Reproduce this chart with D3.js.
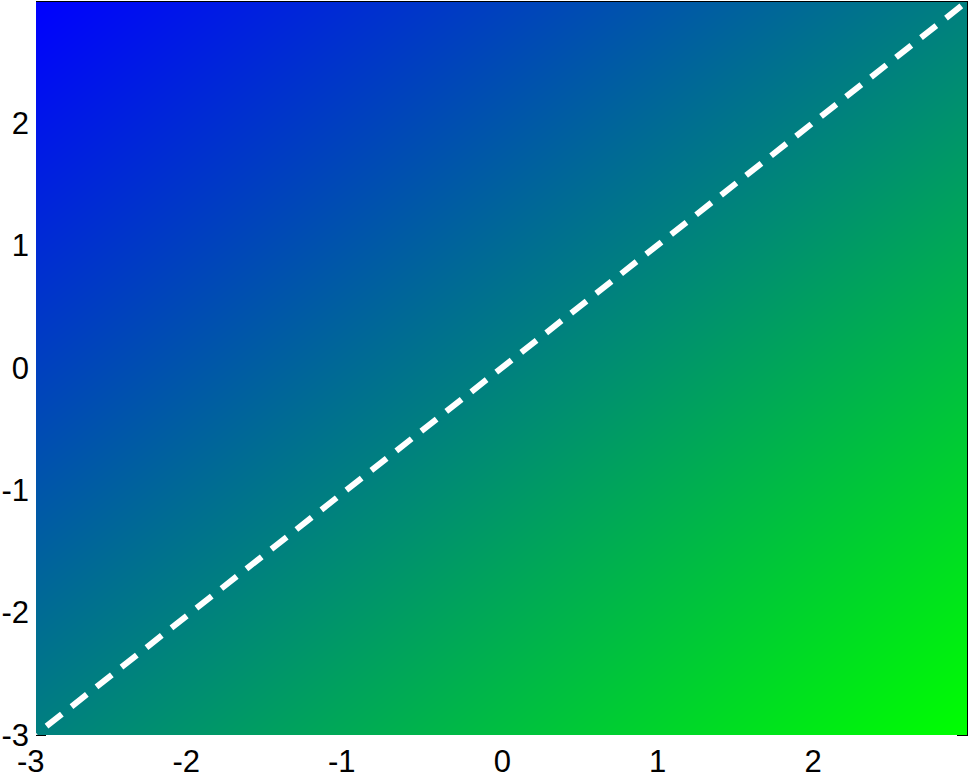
<!DOCTYPE html>
<html>
<head>
<meta charset="utf-8">
<script src="https://cdn.jsdelivr.net/npm/d3@7"></script>
<style>
  body { margin: 0; background: #fff; }
  svg { display: block; font-family: "Liberation Sans", Arial, sans-serif; }
</style>
</head>
<body>
<div id="graph"></div>
<script>
// grid the surface is sampled on
var gridX = [-3, -2, -1, 0, 1, 2, 3];
var gridY = [-3, -2, -1, 0, 1, 2, 3];
// surface values, rows follow gridY, columns follow gridX
var gridZ = [
  [ 0,  1,  2,  3,  4,  5,  6],
  [-1,  0,  1,  2,  3,  4,  5],
  [-2, -1,  0,  1,  2,  3,  4],
  [-3, -2, -1,  0,  1,  2,  3],
  [-4, -3, -2, -1,  0,  1,  2],
  [-5, -4, -3, -2, -1,  0,  1],
  [-6, -5, -4, -3, -2, -1,  0]
];
var colorStops = ["#0000ff", "#00ff00"];
var zRange = [-6, 6];

// dashed diagonal
var lineX = [-3, 3];
var lineY = [-3, 3];

var xTicks = [-3, -2, -1, 0, 1, 2];
var yTicks = [-3, -2, -1, 0, 1, 2];
var xLimits = [-3, 2.99];
var yLimits = [-3, 2.99];

var svgWidth = 969, svgHeight = 774;
var margin = {top: 1.5, right: 2, bottom: 39.5, left: 36};
var width = svgWidth - margin.left - margin.right;
var height = svgHeight - margin.top - margin.bottom;

var svg = d3.select('#graph').append('svg')
  .attr('width', svgWidth)
  .attr('height', svgHeight);

var x = d3.scaleLinear().domain(xLimits).range([margin.left, margin.left + width]);
var y = d3.scaleLinear().domain(yLimits).range([margin.top + height, margin.top]);
var color = d3.scaleLinear().domain(zRange).range(colorStops);

// bilinear lookup into the grid
function surface(px, py) {
  var i = Math.max(0, Math.min(gridX.length - 2, d3.bisectRight(gridX, px) - 1));
  var j = Math.max(0, Math.min(gridY.length - 2, d3.bisectRight(gridY, py) - 1));
  var tx = (px - gridX[i]) / (gridX[i + 1] - gridX[i]);
  var ty = (py - gridY[j]) / (gridY[j + 1] - gridY[j]);
  var z00 = gridZ[j][i], z10 = gridZ[j][i + 1];
  var z01 = gridZ[j + 1][i], z11 = gridZ[j + 1][i + 1];
  return (z00 * (1 - tx) + z10 * tx) * (1 - ty) + (z01 * (1 - tx) + z11 * tx) * ty;
}

// paint the image into a canvas, then drop it into the svg
var imgX0 = Math.round(x(xLimits[0])), imgX1 = Math.round(x(xLimits[1]));
var imgY0 = Math.ceil(y(yLimits[1])), imgY1 = Math.round(y(yLimits[0]));
var cw = imgX1 - imgX0, ch = imgY1 - imgY0;
var canvas = document.createElement('canvas');
canvas.width = cw; canvas.height = ch;
var ctx = canvas.getContext('2d');
var img = ctx.createImageData(cw, ch);
for (var r = 0; r < ch; r++) {
  var dy = y.invert(imgY0 + r + 0.5);
  for (var c = 0; c < cw; c++) {
    var dx = x.invert(imgX0 + c + 0.5);
    var col = d3.rgb(color(surface(dx, dy)));
    var k = (r * cw + c) * 4;
    img.data[k] = col.r; img.data[k + 1] = col.g; img.data[k + 2] = col.b; img.data[k + 3] = 255;
  }
}
ctx.putImageData(img, 0, 0);

svg.append('image')
  .attr('x', imgX0).attr('y', imgY0)
  .attr('width', cw).attr('height', ch)
  .attr('preserveAspectRatio', 'none')
  .attr('href', canvas.toDataURL());

svg.append('defs').append('clipPath').attr('id', 'plot-clip')
  .append('rect')
  .attr('x', imgX0).attr('y', imgY0)
  .attr('width', cw).attr('height', ch);

// the diagonal
var line = d3.line()
  .x(function(d) { return x(d[0]); })
  .y(function(d) { return y(d[1]); });

svg.append('path')
  .datum(d3.zip(lineX, lineY))
  .attr('clip-path', 'url(#plot-clip)')
  .attr('fill', 'none')
  .attr('stroke', '#fff')
  .attr('stroke-width', 6)
  .attr('stroke-dasharray', '19.5,12.3')
  .attr('stroke-dashoffset', 18.4)
  .attr('d', line);

// box edges that stay visible past the image (top, right)
var frame = svg.append('g').attr('stroke', '#000').attr('stroke-width', 1).attr('fill', 'none');
frame.append('line')
  .attr('x1', imgX0).attr('x2', imgX1 + 1)
  .attr('y1', imgY0 - 0.5).attr('y2', imgY0 - 0.5);
frame.append('line')
  .attr('x1', imgX1 + 0.5).attr('x2', imgX1 + 0.5)
  .attr('y1', imgY0 - 1).attr('y2', imgY1 + 1);
// the lowest tick pair peeks out below the image
frame.append('line')
  .attr('x1', imgX0).attr('x2', imgX0 + 10)
  .attr('y1', imgY1 + 0.5).attr('y2', imgY1 + 0.5);
frame.append('line')
  .attr('x1', imgX1 - 10).attr('x2', imgX1 + 1)
  .attr('y1', imgY1 + 0.5).attr('y2', imgY1 + 0.5);

// tick labels
var fontSize = 31;
var digitHalf = fontSize * 0.278;

svg.append('g').selectAll('text')
  .data(xTicks)
  .enter().append('text')
  .attr('x', function(d) { return x(d) + digitHalf; })
  .attr('y', imgY1 + 37)
  .attr('text-anchor', 'end')
  .attr('font-size', fontSize)
  .attr('fill', '#000')
  .text(function(d) { return d; });

svg.append('g').selectAll('text')
  .data(yTicks)
  .enter().append('text')
  .attr('x', imgX0 - 7)
  .attr('y', function(d) { return y(d); })
  .attr('dy', '0.36em')
  .attr('text-anchor', 'end')
  .attr('font-size', fontSize)
  .attr('fill', '#000')
  .text(function(d) { return d; });
</script>
</body>
</html>
